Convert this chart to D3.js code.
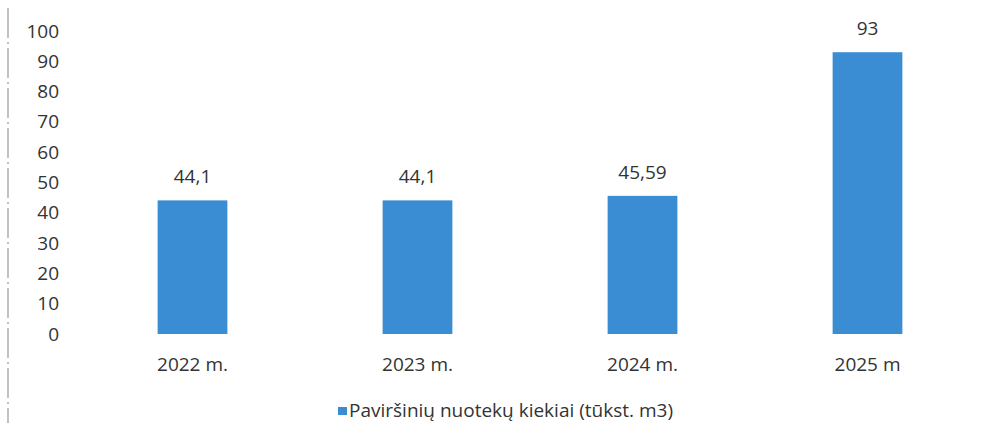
<!DOCTYPE html>
<html><head><meta charset="utf-8">
<script src="https://cdn.jsdelivr.net/npm/d3@7"></script>
<style>body{margin:0;background:#fff}svg{display:block}text{font-family:"Open Sans","Liberation Sans",sans-serif;fill:#333}</style>
</head><body><svg id="c" width="1001" height="423"></svg>
<script>
const categories = ["2022 m.", "2023 m.", "2024 m.", "2025 m"];
const values = [44.1, 44.1, 45.59, 93];
const valueLabels = ["44,1", "44,1", "45,59", "93"];
const yTicks = [0,10,20,30,40,50,60,70,80,90,100];
const seriesName = "Paviršinių nuotekų kiekiai (tūkst. m3)";

const svg = d3.select("#c");
const x = d3.scaleBand().domain(categories).range([80, 980]).paddingInner(0.69).paddingOuter(0.345);
const y = d3.scaleLinear().domain([0,100]).range([334, 31]);
const color = "#3a8dd3";
const fs = "19px";

// scan border line
svg.append("line").attr("x1",8).attr("x2",8).attr("y1",8).attr("y2",423).attr("stroke","#999").attr("stroke-width",1.2).attr("stroke-dasharray","30,4,2,4");

const ya = svg.append("g").attr("transform","translate(67,0)")
  .call(d3.axisLeft(y).tickValues(yTicks).tickSize(0).tickPadding(8));
ya.select(".domain").remove();
ya.selectAll("text").style("font-size",fs).attr("fill","#333");

svg.append("g").selectAll("rect").data(values).join("rect")
  .attr("x",(d,i)=>x(categories[i])).attr("width",x.bandwidth())
  .attr("y",d=>y(d)).attr("height",d=>y(0)-y(d)).attr("fill",color);

svg.append("g").selectAll("text").data(values).join("text")
  .attr("x",(d,i)=>x(categories[i])+x.bandwidth()/2).attr("y",d=>y(d)-17)
  .attr("text-anchor","middle").style("font-size",fs).text((d,i)=>valueLabels[i]);

const xa = svg.append("g").attr("transform","translate(0,334)")
  .call(d3.axisBottom(x).tickSize(0).tickPadding(0));
xa.select(".domain").remove();
xa.selectAll("text").attr("dy",null).attr("y",37).style("font-size",fs).attr("fill","#333");

const lg = svg.append("g").attr("transform","translate(338,410)");
lg.append("rect").attr("x",0).attr("y",-3).attr("width",9).attr("height",8).attr("fill",color);
lg.append("text").attr("x",11).attr("y",0).attr("dy","0.35em").style("font-size",fs).text(seriesName);
</script></body></html>
